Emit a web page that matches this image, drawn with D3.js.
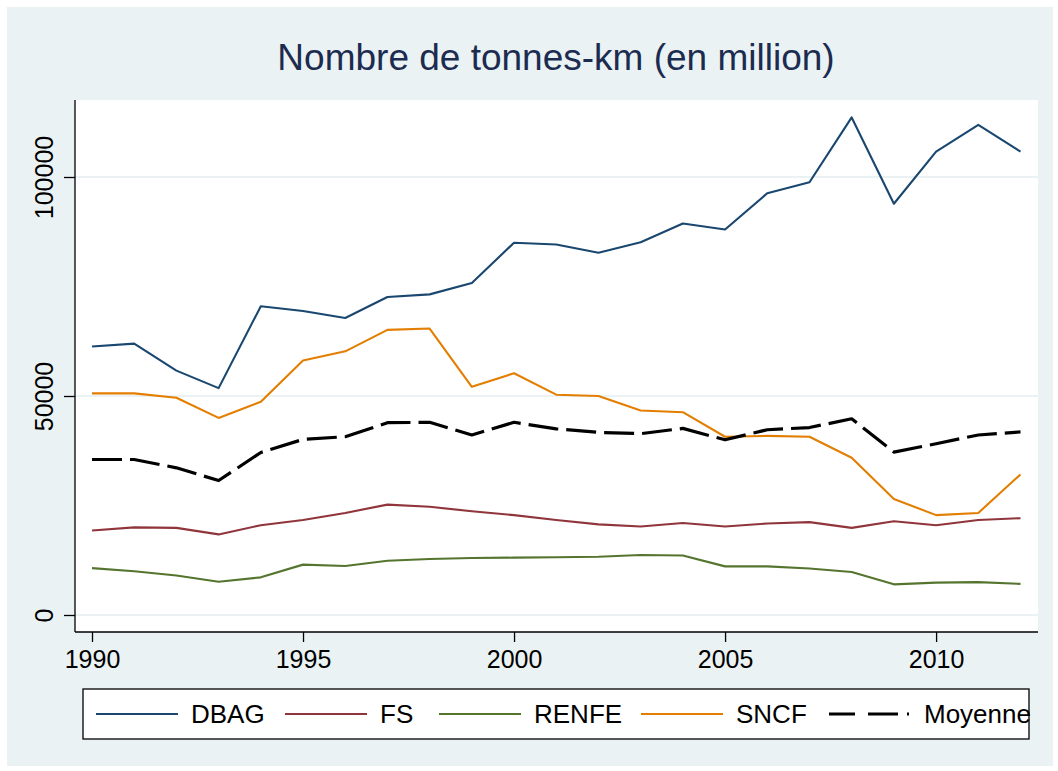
<!DOCTYPE html>
<html>
<head>
<meta charset="utf-8">
<script src="https://cdn.jsdelivr.net/npm/d3@7"></script>
<style>
  body { margin: 0; background: #fff; }
  svg { display: block; font-family: "Liberation Sans", Arial, Helvetica, sans-serif; }
</style>
</head>
<body>
<svg id="chart" width="1058" height="771"></svg>
<script>
// données (millions de tonnes-km)
const years = d3.range(1990, 2013);
const dbag = [61300, 61950, 55800, 51800, 70500, 69400, 67800, 72600, 73200, 75800, 85000, 84600,
  82700, 85100, 89400, 88000, 96300, 98800, 113600, 93900, 105800, 111900, 105800];
const fs = [19300, 20000, 19900, 18400, 20500, 21700, 23300, 25200, 24700, 23700, 22800, 21700,
  20700, 20200, 21000, 20200, 20900, 21200, 19900, 21400, 20500, 21700, 22100];
const renfe = [10700, 10000, 9000, 7600, 8600, 11500, 11200, 12400, 12800, 13000, 13100, 13200,
  13300, 13700, 13600, 11100, 11100, 10600, 9800, 7000, 7400, 7500, 7100];
const sncf = [50600, 50600, 49600, 45000, 48700, 58100, 60200, 65100, 65400, 52100, 55200, 50300,
  50000, 46700, 46300, 40700, 40900, 40700, 35900, 26500, 22800, 23300, 32100];
const moyenne = [35500, 35500, 33600, 30700, 37100, 40100, 40700, 43900, 44000, 41100, 44000, 42500,
  41700, 41400, 42600, 40000, 42300, 42800, 44800, 37200, 39100, 41100, 41800];
const yTicks = [0, 50000, 100000];
const xTicks = [1990, 1995, 2000, 2005, 2010];

const series = [
  { name: "DBAG", values: dbag, color: "#1a476f" },
  { name: "FS", values: fs, color: "#90353b" },
  { name: "RENFE", values: renfe, color: "#55752f" },
  { name: "SNCF", values: sncf, color: "#e37e00" },
  { name: "Moyenne", values: moyenne, color: "#000000", dash: true }
];

const svg = d3.select("#chart");

// fond gris-bleu (style Stata)
svg.append("rect").attr("x", 7).attr("y", 7).attr("width", 1046).attr("height", 759)
  .attr("fill", "#eaf2f3");

// zone du graphique
const plot = { left: 75, right: 1038, top: 100, bottom: 632 };
svg.append("rect").attr("x", plot.left).attr("y", plot.top)
  .attr("width", plot.right - plot.left).attr("height", plot.bottom - plot.top)
  .attr("fill", "#fff");

const x = d3.scaleLinear().domain([1990, 2012]).range([92, 1020.5]);
const y = d3.scaleLinear().domain([0, 100000]).range([615, 177]);

// grille
svg.append("g").selectAll("line").data(yTicks).join("line")
  .attr("x1", plot.left).attr("x2", plot.right)
  .attr("y1", d => y(d)).attr("y2", d => y(d))
  .attr("stroke", "#eaf2f3").attr("stroke-width", 2);

// axes
const yAxis = svg.append("g").attr("transform", `translate(${plot.left},0)`)
  .call(d3.axisLeft(y).tickValues(yTicks).tickSize(11).tickPadding(8).tickFormat(d3.format("d")));
yAxis.select(".domain").attr("d", `M0,${plot.top}V${plot.bottom}`).attr("stroke", "#000").attr("stroke-width", 1.3);
yAxis.selectAll(".tick line").attr("stroke", "#000").attr("stroke-width", 1.3);
yAxis.selectAll(".tick text")
  .attr("font-size", 25).attr("fill", "#000")
  .attr("transform", "rotate(-90)")
  .attr("x", 0).attr("y", -31).attr("dy", "0.35em")
  .attr("text-anchor", "middle");

const xAxis = svg.append("g").attr("transform", `translate(0,${plot.bottom})`)
  .call(d3.axisBottom(x).tickValues(xTicks).tickSize(10).tickPadding(8).tickFormat(d3.format("d")));
xAxis.select(".domain").attr("d", `M${plot.left},0H${plot.right}`).attr("stroke", "#000").attr("stroke-width", 1.3);
xAxis.selectAll(".tick line").attr("stroke", "#000").attr("stroke-width", 1.3);
xAxis.selectAll(".tick text").attr("font-size", 25).attr("fill", "#000");

// courbes
const line = d3.line().x((d, i) => x(years[i])).y(d => y(d));
svg.append("g").selectAll("path").data(series).join("path")
  .attr("d", s => line(s.values))
  .attr("fill", "none")
  .attr("stroke", s => s.color)
  .attr("stroke-width", s => s.dash ? 3.2 : 2.1)
  .attr("stroke-dasharray", s => s.dash ? "30,8" : null)
  .attr("stroke-linejoin", "round");

// titre
svg.append("text").attr("x", 556).attr("y", 70).attr("text-anchor", "middle")
  .attr("font-size", 37).attr("fill", "#1c2b50")
  .text("Nombre de tonnes-km (en million)");

// légende
const leg = svg.append("g");
leg.append("rect").attr("x", 83).attr("y", 689).attr("width", 946).attr("height", 50)
  .attr("fill", "#fff").attr("stroke", "#000").attr("stroke-width", 1.3);
const legX = [96, 285, 439, 641, 829];
const item = leg.selectAll("g.item").data(series).join("g")
  .attr("transform", (s, i) => `translate(${legX[i]},714)`);
item.append("line").attr("x1", 0).attr("x2", s => s.dash ? 80 : 82).attr("y1", 0).attr("y2", 0)
  .attr("stroke", s => s.color)
  .attr("stroke-width", s => s.dash ? 3.2 : 2.1)
  .attr("stroke-dasharray", s => s.dash ? "26,13,30,9,2,100" : null);
item.append("text").attr("x", 95).attr("y", 0).attr("dy", "0.35em")
  .attr("font-size", 26).attr("fill", "#000")
  .text(s => s.name);
</script>
</body>
</html>
